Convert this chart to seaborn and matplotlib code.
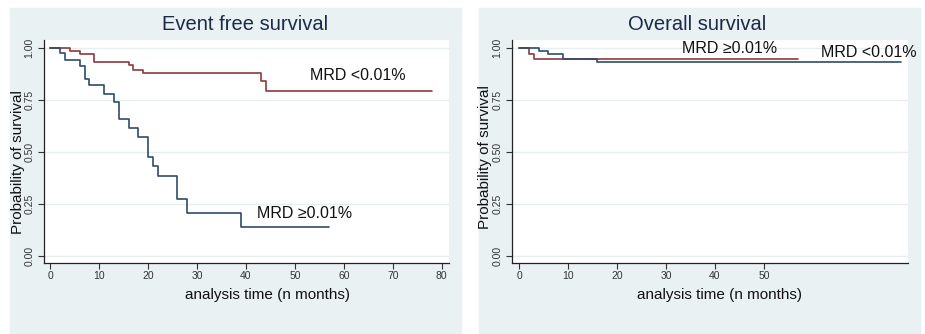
import pandas as pd
import matplotlib.pyplot as plt
from matplotlib.patches import Rectangle
import seaborn as sns

# Kaplan-Meier step values (months, survival probability)
efs_low_t = [0, 4, 6, 9, 16, 17, 19, 43, 44, 78]
efs_low_s = [1.0, 0.985, 0.970, 0.931, 0.915, 0.895, 0.877, 0.838, 0.792, 0.792]
efs_high_t = [0, 2, 3, 6, 7, 8, 11, 13, 14, 16, 18, 20, 21, 22, 26, 28, 39, 57]
efs_high_s = [1.0, 0.975, 0.943, 0.912, 0.848, 0.819, 0.779, 0.739, 0.657,
              0.614, 0.572, 0.476, 0.430, 0.384, 0.272, 0.206, 0.136, 0.136]

os_red_t = [0, 2, 3, 57]
os_red_s = [1.0, 0.972, 0.944, 0.944]
os_blue_t = [0, 4, 6, 9, 16, 78]
os_blue_s = [1.0, 0.986, 0.968, 0.947, 0.929, 0.929]

lab_low = "MRD <0.01%"
lab_high = "MRD ≥0.01%"
yticks = [0, 0.25, 0.5, 0.75, 1.0]
ytick_labels = ["0.00", "0.25", "0.50", "0.75", "1.00"]
efs_xticks = [0, 10, 20, 30, 40, 50, 60, 70, 80]
os_xticks = [0, 10, 20, 30, 40, 50]

NAVY = "#2f4b6c"
MAROON = "#8e3a3f"
BG = "#eaf1f3"


def km_frame(t, s, group):
    return pd.DataFrame({"time": t, "surv": s, "group": group})


efs = pd.concat([km_frame(efs_low_t, efs_low_s, "red"),
                 km_frame(efs_high_t, efs_high_s, "blue")], ignore_index=True)
ovs = pd.concat([km_frame(os_red_t, os_red_s, "red"),
                 km_frame(os_blue_t, os_blue_s, "blue")], ignore_index=True)

sns.set_theme(style="ticks")
plt.rcParams["font.family"] = ["Liberation Sans", "DejaVu Sans"]

fig = plt.figure(figsize=(9.25, 3.34), dpi=100)
fig.patch.set_facecolor("white")
fig.patches.append(Rectangle((10 / 925, 0), 451 / 925, 326 / 334,
                             transform=fig.transFigure, color=BG, zorder=-10))
fig.patches.append(Rectangle((479 / 925, 0), 441 / 925, 326 / 334,
                             transform=fig.transFigure, color=BG, zorder=-10))

ax1 = fig.add_axes([44 / 925, 71 / 334, 405 / 925, 223 / 334])
ax2 = fig.add_axes([512 / 925, 71 / 334, 396 / 925, 223 / 334])

pal = {"red": MAROON, "blue": NAVY}
for ax, df in [(ax1, efs), (ax2, ovs)]:
    ax.set_facecolor("white")
    for yv in yticks:
        ax.axhline(yv, color="#e6eef0", lw=1.0, zorder=0)
    sns.lineplot(data=df, x="time", y="surv", hue="group", palette=pal,
                 drawstyle="steps-post", estimator=None, legend=False,
                 linewidth=1.2, ax=ax)
    ax.set_ylim(-0.035, 1.037)
    ax.set_yticks(yticks)
    ax.set_yticklabels(ytick_labels, rotation=90, va="center")
    ax.tick_params(axis="both", direction="out", length=4, width=0.8,
                   color="#333333", labelsize=7.5, labelcolor="#333333", pad=2)
    ax.tick_params(axis="y", pad=3)
    for sp in ["top", "right"]:
        ax.spines[sp].set_visible(False)
    for sp in ["left", "bottom"]:
        ax.spines[sp].set_color("#222222")
        ax.spines[sp].set_linewidth(0.9)
    ax.set_xlabel("analysis time (n months)", fontsize=11, color="#111111")
    ax.set_ylabel("Probability of survival", fontsize=11, color="#111111")
    ax.xaxis.label.set_va("center")
    ax.yaxis.label.set_va("center")

ax1.set_xlim(-1.29, 81.5)
ax1.set_xticks(efs_xticks)
ax2.set_xlim(-1.43, 79.4)
ax2.set_xticks(os_xticks)

ax1.xaxis.set_label_coords(0.551, -0.1435)
ax2.xaxis.set_label_coords(0.523, -0.1435)
ax1.yaxis.set_label_coords(-0.064, 0.453)
ax2.yaxis.set_label_coords(-0.068, 0.475)

# curve labels
ax1.text(53.1, 0.864, lab_low, fontsize=11.5, va="center", color="#111111")
ax1.text(42.3, 0.205, lab_high, fontsize=11.5, va="center", color="#111111")
ax2.text(33.3, 0.994, lab_high, fontsize=11.5, va="center", color="#111111")
ax2.text(61.6, 0.975, lab_low, fontsize=11.5, va="center", color="#111111")

fig.text(245 / 925, 1 - 25 / 334, "Event free survival", fontsize=14.5,
         ha="center", va="center", color="#1c2a4a")
fig.text(697 / 925, 1 - 25 / 334, "Overall survival", fontsize=14.5,
         ha="center", va="center", color="#1c2a4a")

fig.savefig("out.png", dpi=100)
